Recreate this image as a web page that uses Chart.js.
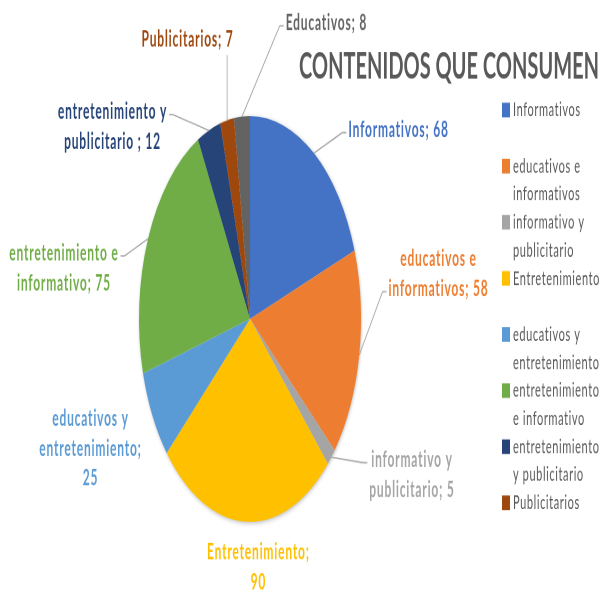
<!DOCTYPE html>
<html>
<head>
<meta charset="utf-8">
<script src="https://cdn.jsdelivr.net/npm/chart.js@4"></script>
<style>
html,body{margin:0;padding:0;background:#fff;overflow:hidden}
</style>
</head>
<body>
<canvas id="graficoContenidos" width="602" height="325" style="width:602px;height:594px"></canvas>
<script>
// datos del grafico
const categorias=['Informativos','educativos e informativos','informativo y publicitario','Entretenimiento',
    'educativos y entretenimiento','entretenimiento e informativo','entretenimiento y publicitario ','Publicitarios','Educativos'];
const valores=[68,58,5,90,25,75,12,7,8];
const titulo='CONTENIDOS QUE CONSUMEN';

// estilos
const colores=['#4472C4','#ED7D31','#A5A5A5','#FFC000','#5B9BD5','#70AD47','#264478','#9E480E','#636363'];
// desplazamiento de cada etiqueta respecto al borde de su porcion
const desplazamientos=[[84.6,-12.7],[79.3,-44.5],[80.7,9.8],[12.4,24.8],[-61.9,18],[-84.1,16.1],[-96.4,-1.9],[-39.6,-44.5],[84.4,-51.2]];
const fuente='Lato, "Open Sans", sans-serif';

const envolver=(ctx,texto,ancho)=>{
    let palabras=texto.split(' ').filter(p=>p.length>0);
    let lineas=[];
    let actual='';
    palabras.forEach(p=>{
        let prueba=actual? actual+' '+p : p;
        if(actual && ctx.measureText(prueba).width>ancho){
            lineas.push(actual);
            actual=p;
        }else{
            actual=prueba;
        }
    })
    if(actual) lineas.push(actual);
    return lineas;
}

const sombraPlugin={
    id:'sombra',
    beforeDatasetsDraw(chart){
        let arc=chart.getDatasetMeta(0).data[0];
        if(!arc) return;
        let p=arc.getProps(['x','y','outerRadius'],true);
        let ctx=chart.ctx;
        ctx.save();
        ctx.shadowColor='rgba(0,0,0,0.35)';
        ctx.shadowBlur=6;
        ctx.shadowOffsetX=1;
        ctx.shadowOffsetY=1.5;
        ctx.fillStyle='#fff';
        ctx.beginPath();
        ctx.arc(p.x,p.y,p.outerRadius-0.5,0,Math.PI*2);
        ctx.fill();
        ctx.restore();
    }
}

const etiquetasPlugin={
    id:'etiquetas',
    afterDatasetsDraw(chart){
        let ctx=chart.ctx;
        let meta=chart.getDatasetMeta(0);
        let datos=chart.data.datasets[0].data;
        let alto=16.4;
        ctx.save();
        ctx.font='bold 12px '+fuente;
        ctx.letterSpacing='0.8px';
        ctx.textAlign='center';
        ctx.textBaseline='middle';
        meta.data.forEach((arc,i)=>{
            let p=arc.getProps(['x','y','startAngle','endAngle','outerRadius'],true);
            let medio=(p.startAngle+p.endAngle)/2;
            let ex=p.x+Math.cos(medio)*p.outerRadius;
            let ey=p.y+Math.sin(medio)*p.outerRadius;
            let lineas=envolver(ctx,chart.data.labels[i]+'; '+datos[i],113);
            let cx=ex+desplazamientos[i][0];
            let cy=ey+desplazamientos[i][1];
            let anchoMax=Math.max(...lineas.map(l=>ctx.measureText(l).width));
            let izq=cx-anchoMax/2, der=cx+anchoMax/2;
            let arriba=cy-lineas.length*alto/2, abajo=cy+lineas.length*alto/2;
            let ys=lineas.map((l,k)=>cy+(k-(lineas.length-1)/2)*alto);
            // linea guia
            let distancia;
            if(ex<izq) distancia=izq-ex;
            else if(ex>der) distancia=ex-der;
            else distancia=ey>abajo? ey-abajo : arriba-ey;
            if(distancia>15){
                ctx.strokeStyle='#A6A6A6';
                ctx.lineWidth=0.8;
                ctx.beginPath();
                ctx.moveTo(ex,ey);
                if(ex<izq-2 || ex>der+2){
                    // se engancha a la primera linea, o a la ultima si la porcion queda debajo
                    let ay=(ey>abajo? ys[ys.length-1] : ys[0])+1.5;
                    let ax=ex<izq? izq-2 : der+2;
                    let sx=ex<izq? ax-4 : ax+4;
                    ctx.lineTo(sx,ay);
                    ctx.lineTo(ax,ay);
                }else{
                    let ay=ey>abajo? abajo+0.5 : arriba-0.5;
                    ctx.lineTo(ex,ay);
                }
                ctx.stroke();
            }
            ctx.fillStyle=colores[i];
            lineas.forEach((l,k)=>ctx.fillText(l,cx,ys[k]));
        })
        ctx.restore();
    },
    afterDraw(chart){
        let ctx=chart.ctx;
        ctx.save();
        // titulo
        ctx.font='bold 20px '+fuente;
        ctx.fillStyle='#595959';
        ctx.textAlign='center';
        ctx.textBaseline='middle';
        ctx.fillText(titulo,449,36.5);
        // leyenda
        ctx.font='11px '+fuente;
        ctx.letterSpacing='0.6px';
        ctx.textAlign='left';
        let y0=60.2, paso=30.7, linea=15.3;
        chart.data.labels.forEach((etiqueta,i)=>{
            let y=y0+i*paso;
            if(y+linea>300) return;
            ctx.fillStyle=colores[i];
            ctx.fillRect(502,y-4,8,8);
            ctx.fillStyle='#595959';
            envolver(ctx,etiqueta,89).forEach((l,k)=>ctx.fillText(l,513,y+k*linea));
        })
        ctx.restore();
    }
}

const mostrarGrafico=()=>{
    let ctx=document.getElementById('graficoContenidos');
    new Chart(ctx,{
        type:'pie',
        data:{
            labels:categorias,
            datasets:[{
                label:titulo,
                data:valores,
                backgroundColor:colores,
                borderWidth:0
            }]
        },
        options:{
            responsive:false,
            devicePixelRatio:2,
            animation:false,
            layout:{padding:{left:139,right:241,top:63.5,bottom:39.5}},
            plugins:{
                legend:{display:false},
                title:{display:false},
                tooltip:{enabled:false}
            }
        },
        plugins:[sombraPlugin,etiquetasPlugin]
    });
}
mostrarGrafico();
</script>
</body>
</html>
